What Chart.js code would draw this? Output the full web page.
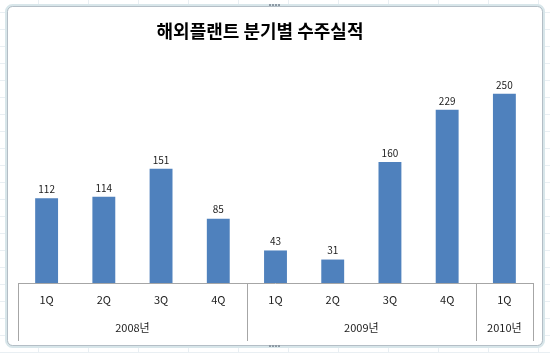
<!DOCTYPE html>
<html>
<head>
<meta charset="utf-8">
<script src="https://cdn.jsdelivr.net/npm/chart.js@4"></script>
<style>
  html, body { margin: 0; padding: 0; background: #fff; }
  #wrap { width: 550px; height: 353px; position: relative; }
</style>
</head>
<body>
<div id="wrap"><canvas id="chart" width="550" height="353"></canvas></div>
<script>
const chartTitle = "해외플랜트 분기별 수주실적";
const quarters = ["1Q", "2Q", "3Q", "4Q", "1Q", "2Q", "3Q", "4Q", "1Q"];
const orders = [112, 114, 151, 85, 43, 31, 160, 229, 250];
const years = ["2008년", "2009년", "2010년"];
const yearCounts = [4, 4, 1];

const font = "'Noto Sans CJK KR', 'Noto Sans', sans-serif";

// sheet cells + chart frame behind everything
const sheetBackground = {
    id: "sheetBackground",
    beforeDraw(chart) {
        const ctx = chart.ctx;
        ctx.save();
        ctx.fillStyle = "#fff";
        ctx.fillRect(0, 0, chart.width, chart.height);
        ctx.strokeStyle = "#e9eff3";
        ctx.lineWidth = 1;
        for (let x = 38; x < chart.width; x += 50) {
            ctx.beginPath(); ctx.moveTo(x + 0.5, 0); ctx.lineTo(x + 0.5, chart.height); ctx.stroke();
        }
        for (let y = 12; y < chart.height; y += 17) {
            ctx.beginPath(); ctx.moveTo(0, y + 0.5); ctx.lineTo(chart.width, y + 0.5); ctx.stroke();
        }
        // frame
        ctx.fillStyle = "#fff";
        ctx.strokeStyle = "#d8e6ea";
        ctx.lineWidth = 3;
        ctx.beginPath();
        ctx.roundRect(6.5, 5.5, 537, 341, 6);
        ctx.fill();
        ctx.stroke();
        ctx.strokeStyle = "#b4bec6";
        ctx.lineWidth = 1;
        ctx.beginPath();
        ctx.roundRect(7.5, 6.5, 535, 339, 5);
        ctx.stroke();
        // handles
        ctx.fillStyle = "#8e9aa5";
        for (let i = 0; i < 4; i++) {
            ctx.fillRect(269 + i * 3, 4, 2, 2);
            ctx.fillRect(269 + i * 3, 345, 2, 2);
        }
        ctx.restore();
    }
};

// title, grouped category box + year labels
const groupAxis = {
    id: "groupAxis",
    afterDraw(chart) {
        const ctx = chart.ctx;
        const x = chart.scales.x;
        const area = chart.chartArea;
        const bottom = 341;
        ctx.save();
        ctx.fillStyle = "#000";
        ctx.font = "bold 18px " + font;
        ctx.textAlign = "center";
        ctx.textBaseline = "middle";
        ctx.fillText(chartTitle, 260, 31);

        ctx.strokeStyle = "#a6a6a6";
        ctx.lineWidth = 1;
        ctx.beginPath();
        ctx.moveTo(area.left, area.bottom + 0.5);
        ctx.lineTo(area.right, area.bottom + 0.5);
        ctx.stroke();

        let start = 0;
        const edges = [area.left];
        yearCounts.forEach((n, i) => {
            const end = start + n - 1;
            const right = end === quarters.length - 1
                ? area.right
                : (x.getPixelForValue(end) + x.getPixelForValue(end + 1)) / 2;
            edges.push(right);
            const left = edges[i];
            ctx.fillStyle = "#222";
            ctx.font = "11px " + font;
            ctx.fillText(years[i], (left + right) / 2, 328);
            start += n;
        });
        edges.forEach((e) => {
            const px = Math.round(e) + 0.5;
            ctx.beginPath();
            ctx.moveTo(px, area.bottom);
            ctx.lineTo(px, bottom);
            ctx.stroke();
        });
        ctx.restore();
    }
};

const valueLabels = {
    id: "valueLabels",
    afterDatasetsDraw(chart) {
        const ctx = chart.ctx;
        const meta = chart.getDatasetMeta(0);
        ctx.save();
        ctx.fillStyle = "#222";
        ctx.font = "10px " + font;
        ctx.textAlign = "center";
        ctx.textBaseline = "middle";
        meta.data.forEach((bar, i) => {
            ctx.fillText(orders[i], bar.x, bar.y - 9);
        });
        ctx.restore();
    }
};

new Chart(document.getElementById("chart"), {
    type: "bar",
    data: {
        labels: quarters,
        datasets: [{
            data: orders,
            backgroundColor: "#4f81bd",
            borderWidth: 0,
            categoryPercentage: 1,
            barPercentage: 0.4,
        }],
    },
    options: {
        responsive: false,
        animation: false,
        layout: { padding: { left: 18, right: 17, top: 56, bottom: 7 } },
        plugins: {
            legend: { display: false },
            tooltip: { enabled: false },
            title: { display: false },
        },
        scales: {
            x: {
                grid: { display: false, drawTicks: false },
                border: { display: false },
                ticks: {
                    color: "#222",
                    font: { family: font, size: 11 },
                    padding: 10,
                    maxRotation: 0,
                },
                afterFit: (s) => { s.height = 63; },
            },
            y: {
                display: false,
                min: 0,
                max: 300,
            },
        },
    },
    plugins: [sheetBackground, groupAxis, valueLabels],
});
</script>
</body>
</html>
